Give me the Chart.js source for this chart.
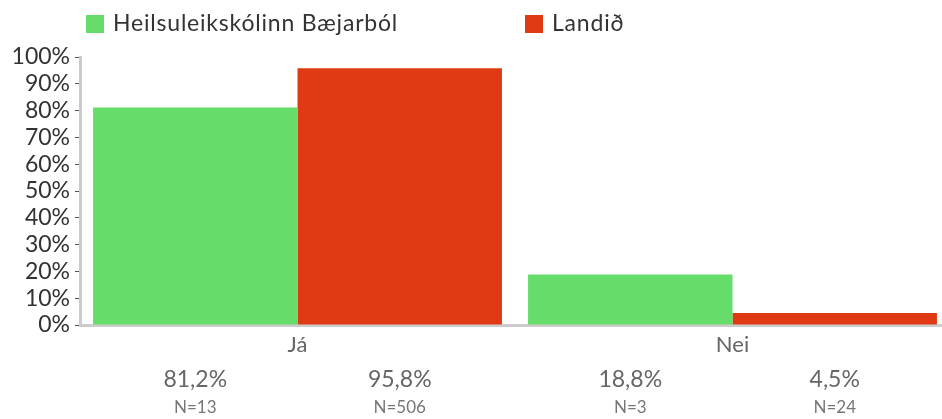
<!DOCTYPE html>
<html>
<head>
<meta charset="utf-8">
<script src="https://cdn.jsdelivr.net/npm/chart.js@4/dist/chart.umd.min.js"></script>
<style>
  html, body { margin: 0; padding: 0; background: #fff; overflow: hidden; }
  #wrap { width: 942px; height: 419px; overflow: hidden; }
</style>
</head>
<body>
<div id="wrap"><canvas id="chart" width="950" height="419"></canvas></div>
<script>
const categories = ['Já', 'Nei'];
const seriesNames = ['Heilsuleikskólinn Bæjarból', 'Landið'];
const schoolValues = [81.2, 18.8];
const countryValues = [95.8, 4.5];
const schoolCounts = [13, 3];
const countryCounts = [506, 24];
const yTicks = [0, 10, 20, 30, 40, 50, 60, 70, 80, 90, 100];

const GREEN = '#66dd6a';
const RED = '#e03a14';
const FONT = 'Lato, "Noto Sans", sans-serif';

const counts = [schoolCounts, countryCounts];

function pct(v) {
    return v.toFixed(1).replace('.', ',') + '%';
}

// legend above the plot and the value/N lines under the categories
const annotate = {
    id: 'annotate',
    afterDraw(chart) {
        const ctx = chart.ctx;
        ctx.save();

        const legend = [
            { x: 86, color: GREEN, text: seriesNames[0] },
            { x: 525, color: RED, text: seriesNames[1] }
        ];
        ctx.font = '23px ' + FONT;
        ctx.letterSpacing = '0.8px';
        ctx.textBaseline = 'middle';
        ctx.textAlign = 'left';
        legend.forEach(item => {
            ctx.fillStyle = item.color;
            ctx.fillRect(item.x, 15, 18, 18);
            ctx.fillStyle = '#333';
            ctx.fillText(item.text, item.x + 27, 24);
        });
        ctx.letterSpacing = '0px';

        ctx.textAlign = 'center';
        chart.data.datasets.forEach((ds, i) => {
            const meta = chart.getDatasetMeta(i);
            meta.data.forEach((bar, j) => {
                ctx.font = '23px ' + FONT;
                ctx.fillStyle = '#666';
                ctx.fillText(pct(ds.data[j]), bar.x, 380);
                ctx.font = '17px ' + FONT;
                ctx.fillStyle = '#777';
                ctx.fillText('N=' + counts[i][j], bar.x, 408);
            });
        });
        ctx.restore();
    }
};

new Chart(document.getElementById('chart'), {
    type: 'bar',
    data: {
        labels: categories,
        datasets: [
            { label: seriesNames[0], data: schoolValues, backgroundColor: GREEN },
            { label: seriesNames[1], data: countryValues, backgroundColor: RED }
        ]
    },
    options: {
        responsive: false,
        animation: false,
        devicePixelRatio: 1,
        layout: { padding: { top: 57, right: 0, bottom: 0, left: 0 } },
        datasets: {
            bar: { categoryPercentage: 0.94, barPercentage: 1.0 }
        },
        plugins: {
            legend: { display: false },
            tooltip: { enabled: false }
        },
        scales: {
            x: {
                grid: { display: false, drawTicks: false },
                border: { color: '#cccccc', width: 3 },
                ticks: {
                    color: '#666',
                    padding: 7,
                    font: { family: FONT, size: 22 }
                },
                afterFit(scale) { scale.height = 94; }
            },
            y: {
                min: 0,
                max: 100,
                afterBuildTicks(scale) {
                    scale.ticks = yTicks.map(v => ({ value: v }));
                },
                grid: {
                    drawOnChartArea: false,
                    drawTicks: true,
                    tickLength: 5,
                    tickColor: '#555',
                    tickWidth: 1
                },
                border: { color: '#cccccc', width: 3 },
                ticks: {
                    color: '#333',
                    padding: 5,
                    autoSkip: false,
                    font: { family: FONT, size: 23 },
                    callback: v => v + '%'
                },
                afterFit(scale) { scale.width = 80; }
            }
        }
    },
    plugins: [annotate]
});
</script>
</body>
</html>
